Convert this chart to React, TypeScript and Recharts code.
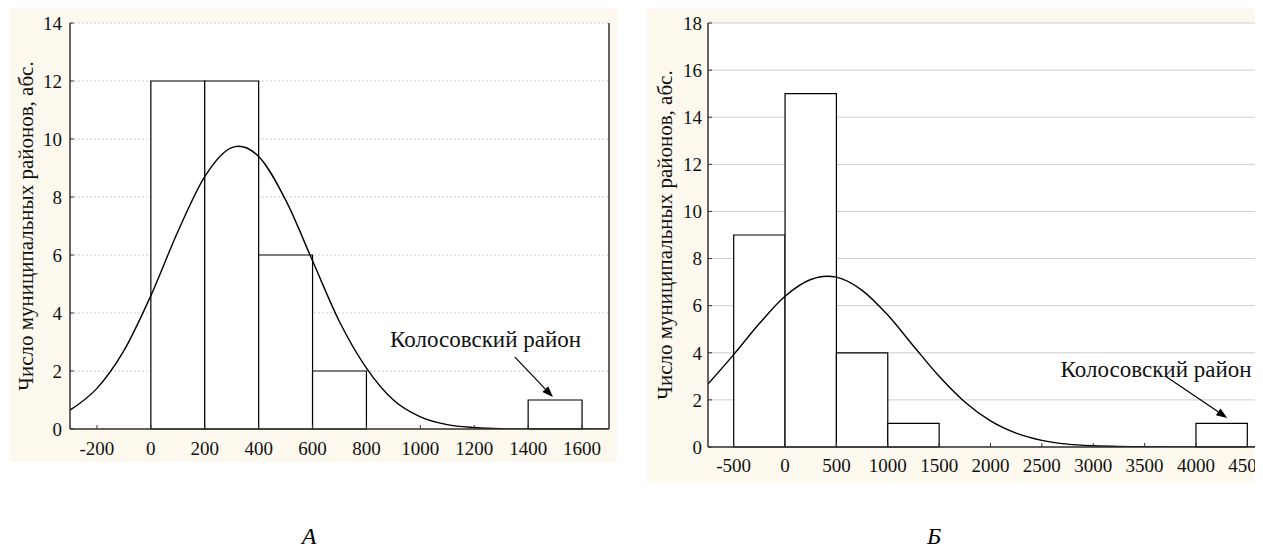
import React from "react";
import {
  CartesianGrid,
  ComposedChart,
  Line,
  ReferenceArea,
  ReferenceDot,
  ReferenceLine,
  XAxis,
  YAxis,
} from "recharts";

// Panel A
const edgesA = [0, 200, 400, 600, 800, 1000, 1200, 1400, 1600];
const countsA = [12, 12, 6, 2, 0, 0, 0, 1];
const curveXA = [-300, -200, -100, 0, 100, 200, 300, 325, 400, 500, 600, 700, 800, 900, 1000, 1100, 1200, 1300, 1400, 1500, 1600, 1700];
const curveYA = [0.65, 1.4, 2.7, 4.6, 6.8, 8.7, 9.7, 9.75, 9.4, 7.9, 5.8, 3.7, 2.1, 1.0, 0.42, 0.15, 0.05, 0.01, 0, 0, 0, 0];
const xTicksA = [-200, 0, 200, 400, 600, 800, 1000, 1200, 1400, 1600];
const yTicksA = [0, 2, 4, 6, 8, 10, 12, 14];

// Panel Б
const edgesB = [-500, 0, 500, 1000, 1500, 2000, 2500, 3000, 3500, 4000, 4500];
const countsB = [9, 15, 4, 1, 0, 0, 0, 0, 0, 1];
const curveXB = [-750, -500, -250, 0, 250, 410, 500, 750, 1000, 1250, 1500, 1750, 2000, 2250, 2500, 2750, 3000, 3250, 3500, 3750, 4000, 4250, 4500, 4750];
const curveYB = [2.67, 3.92, 5.24, 6.4, 7.11, 7.25, 7.21, 6.65, 5.6, 4.29, 3.0, 1.91, 1.11, 0.59, 0.28, 0.12, 0.05, 0.02, 0.01, 0, 0, 0, 0, 0];
const xTicksB = [-500, 0, 500, 1000, 1500, 2000, 2500, 3000, 3500, 4000, 4500];
const yTicksB = [0, 2, 4, 6, 8, 10, 12, 14, 16, 18];

const yTitle = "Число муниципальных районов, абс.";
const note = "Колосовский район";

const FONT = "'Liberation Serif', Tinos, 'Nimbus Roman', 'Times New Roman', 'DejaVu Serif', serif";
const CREAM = "#fdf9ee";
const AXIS = { stroke: "#333", strokeWidth: 1.5 };
const TICK = { fill: "#111", fontSize: 19, fontFamily: FONT };

function Arrow(props: any) {
  const { x1, y1, x2, y2 } = props;
  const a = Math.atan2(y2 - y1, x2 - x1);
  const len = 11;
  const w = 4;
  const bx = x2 - len * Math.cos(a);
  const by = y2 - len * Math.sin(a);
  const pts = `${x2},${y2} ${bx + w * Math.sin(a)},${by - w * Math.cos(a)} ${bx - w * Math.sin(a)},${by + w * Math.cos(a)}`;
  return (
    <g>
      <line x1={x1} y1={y1} x2={bx} y2={by} stroke="#000" strokeWidth={1.2} />
      <polygon points={pts} fill="#000" />
    </g>
  );
}

function NoteText(props: any) {
  return (
    <text x={props.cx} y={props.cy} textAnchor="middle" dominantBaseline="central" fontSize={23} fontFamily={FONT} fill="#111">
      {note}
    </text>
  );
}

function Histogram({
  width,
  height,
  plotRight,
  xAxisH,
  xDomain,
  yDomain,
  xTicks,
  yTicks,
  edges,
  counts,
  curveX,
  curveY,
  yTickMargin,
  xTickMargin,
  notePos,
  arrow,
  gridDash,
}: any) {
  const data = curveX.map((x: number, i: number) => ({ x, y: curveY[i] }));
  return (
    <ComposedChart width={width} height={height} data={data} margin={{ top: 15, right: 0, left: 0, bottom: 0 }}>
      <CartesianGrid vertical={false} fill="#fff" stroke="#cdcdcd" strokeDasharray={gridDash} />
      <XAxis
        dataKey="x"
        type="number"
        domain={xDomain}
        ticks={xTicks}
        allowDataOverflow
        height={xAxisH}
        axisLine={AXIS}
        tickLine={{ stroke: "#333" }}
        tickSize={-4}
        tickMargin={xTickMargin}
        tick={TICK}
        interval={0}
      />
      <XAxis
        xAxisId="top"
        orientation="top"
        type="number"
        domain={xDomain}
        ticks={xTicks}
        allowDataOverflow
        height={0}
        axisLine={AXIS}
        tickLine={{ stroke: "#333" }}
        tickSize={-4}
        tick={false}
      />
      <YAxis
        type="number"
        domain={yDomain}
        ticks={yTicks}
        allowDataOverflow
        width={61}
        axisLine={AXIS}
        tickLine={{ stroke: "#333" }}
        tickSize={-4}
        tickMargin={yTickMargin}
        tick={TICK}
        interval={0}
      />
      <YAxis
        yAxisId="right"
        orientation="right"
        type="number"
        domain={yDomain}
        ticks={yTicks}
        allowDataOverflow
        width={plotRight}
        axisLine={AXIS}
        tickLine={{ stroke: "#333" }}
        tickSize={-4}
        tick={false}
      />
      {counts.map((c: number, i: number) =>
        c > 0 ? (
          <ReferenceArea
            key={i}
            x1={edges[i]}
            x2={edges[i + 1]}
            y1={0}
            y2={c}
            fill="#fff"
            fillOpacity={1}
            stroke="#000"
            strokeWidth={1.2}
          />
        ) : null
      )}
      <Line type="monotone" dataKey="y" stroke="#000" strokeWidth={1.4} dot={false} isAnimationActive={false} />
      <ReferenceLine segment={arrow} shape={Arrow} ifOverflow="visible" />
      <ReferenceDot x={notePos.x} y={notePos.y} r={1} shape={NoteText} ifOverflow="visible" />
    </ComposedChart>
  );
}

export default function App() {
  return (
    <div style={{ position: "relative", width: 1255, height: 536, fontFamily: FONT }}>
      <div style={{ position: "absolute", left: 1, top: 0, width: 608, height: 454, background: CREAM }}>
        <Histogram
          width={608}
          height={454}
          plotRight={8}
          xAxisH={33}
          xDomain={[-300, 1700]}
          yDomain={[0, 14]}
          xTicks={xTicksA}
          yTicks={yTicksA}
          edges={edgesA}
          counts={countsA}
          curveX={curveXA}
          curveY={curveYA}
          yTickMargin={12}
          xTickMargin={17}
          notePos={{ x: 1242, y: 3.07 }}
          arrow={[{ x: 1351, y: 2.48 }, { x: 1492, y: 1.1 }]}
          gridDash="2 2"
        />
      </div>
      <div style={{ position: "absolute", left: 639, top: 0, width: 616, height: 475, background: CREAM, overflow: "hidden" }}>
        <Histogram
          width={633}
          height={475}
          plotRight={7}
          xAxisH={36}
          xDomain={[-750, 4750]}
          yDomain={[0, 18]}
          xTicks={xTicksB}
          yTicks={yTicksB}
          edges={edgesB}
          counts={countsB}
          curveX={curveXB}
          curveY={curveYB}
          yTickMargin={10}
          xTickMargin={16}
          notePos={{ x: 3612, y: 3.27 }}
          arrow={[{ x: 3701, y: 3.01 }, { x: 4305, y: 1.23 }]}
        />
      </div>
      <div
        style={{
          position: "absolute",
          left: 18,
          top: 218,
          transform: "translate(-50%, -50%) rotate(-90deg)",
          whiteSpace: "nowrap",
          fontSize: 21,
          color: "#111",
        }}
      >
        {yTitle}
      </div>
      <div
        style={{
          position: "absolute",
          left: 657,
          top: 227,
          transform: "translate(-50%, -50%) rotate(-90deg)",
          whiteSpace: "nowrap",
          fontSize: 21,
          color: "#111",
        }}
      >
        {yTitle}
      </div>
      <div style={{ position: "absolute", left: 301, top: 528, transform: "translate(-50%, -50%)", fontSize: 24, fontStyle: "italic", lineHeight: 1 }}>
        А
      </div>
      <div style={{ position: "absolute", left: 926, top: 528, transform: "translate(-50%, -50%)", fontSize: 24, fontStyle: "italic", lineHeight: 1 }}>
        Б
      </div>
    </div>
  );
}
